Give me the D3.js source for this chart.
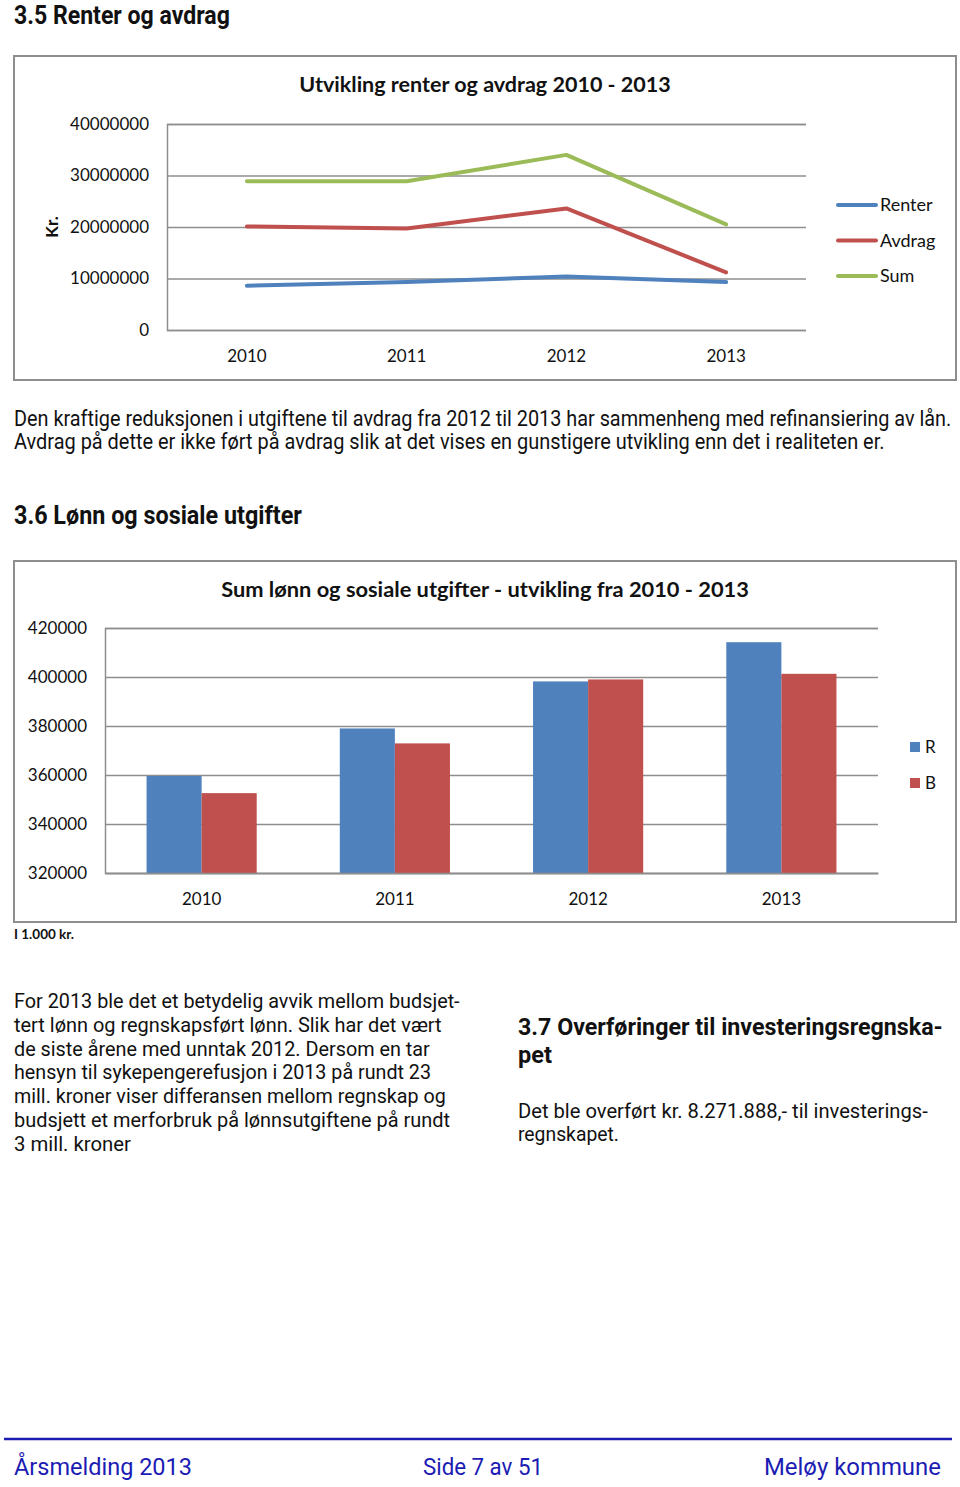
<!DOCTYPE html>
<html><head><meta charset="utf-8">
<script src="https://cdn.jsdelivr.net/npm/d3@7"></script>
<style>
html,body{margin:0;padding:0;background:#fff;}
svg{display:block;}
</style></head>
<body>
<svg id="page" width="960" height="1487"></svg>
<script>
// ---------- DATA ----------
const years1 = ["2010", "2011", "2012", "2013"];
const seriesNames1 = ["Renter", "Avdrag", "Sum"];
const renter = [8600000, 9300000, 10400000, 9300000];
const avdrag = [20100000, 19700000, 23600000, 11200000];
const sumVals = [28900000, 28900000, 34000000, 20500000];
const yTicks1 = [0, 10000000, 20000000, 30000000, 40000000];

const years2 = ["2010", "2011", "2012", "2013"];
const seriesNames2 = ["R", "B"];
const valuesR = [359600, 379000, 398200, 414200];
const valuesB = [352600, 372900, 399000, 401300];
const yTicks2 = [320000, 340000, 360000, 380000, 400000, 420000];

// ---------- STYLE ----------
const C_BLUE = "#4F81BD", C_RED = "#C0504D", C_GREEN = "#9BBB59";
const GRID = "#8e8e8e";
const chartFont = "Lato, 'Open Sans', sans-serif";
const bodyFont = "'Liberation Sans Narrow', Roboto, sans-serif";
const footBlue = "#1c1cb4";

const svg = d3.select("#page");

// Text squeezed horizontally to a target width via a scale transform
function fitText(sel, x, y, str, len, size, weight, fill, family, anchor) {
  const g = sel.append("g");
  const t = g.append("text")
    .attr("x", 0).attr("y", 0)
    .attr("font-family", family || bodyFont)
    .attr("font-size", size)
    .attr("font-weight", weight || "normal")
    .attr("fill", fill || "#111")
    .attr("text-anchor", anchor || "start")
    .text(str);
  let sx = 1;
  if (len) {
    const nat = t.node().getComputedTextLength();
    if (nat > 0) sx = len / nat;
  }
  g.attr("transform", `translate(${x},${y}) scale(${sx},1)`);
  return t;
}

// ---------- PAGE TEXT ----------
fitText(svg, 14, 24, "3.5 Renter og avdrag", 216, 25, "bold");
fitText(svg, 14, 426, "Den kraftige reduksjonen i utgiftene til avdrag fra 2012 til 2013 har sammenheng med refinansiering av lån.", 938, 22);
fitText(svg, 14, 449, "Avdrag på dette er ikke ført på avdrag slik at det vises en gunstigere utvikling enn det i realiteten er.", 871, 22);
fitText(svg, 14, 524, "3.6 Lønn og sosiale utgifter", 288, 26, "bold");
fitText(svg, 14, 939, "I 1.000 kr.", 60, 13, "bold", "#111", chartFont);

const leftPara = [
  ["For 2013 ble det et betydelig avvik mellom budsjet-", 446],
  ["tert lønn og regnskapsført lønn. Slik har det vært", 428],
  ["de siste årene med unntak 2012. Dersom en tar", 416],
  ["hensyn til sykepengerefusjon i 2013 på rundt 23", 417],
  ["mill. kroner viser differansen mellom regnskap og", 432],
  ["budsjett et merforbruk på lønnsutgiftene på rundt", 436],
  ["3 mill. kroner", 117]
];
leftPara.forEach((l, i) => fitText(svg, 14, 1008 + i * 23.8, l[0], l[1], 21));

fitText(svg, 518, 1035, "3.7 Overføringer til investeringsregnska-", 425, 24, "bold");
fitText(svg, 518, 1063, "pet", 34, 24, "bold");
fitText(svg, 518, 1118, "Det ble overført kr. 8.271.888,- til investerings-", 410, 21);
fitText(svg, 518, 1141, "regnskapet.", 101, 21);

// footer
svg.append("line").attr("x1", 4).attr("x2", 952).attr("y1", 1439).attr("y2", 1439)
  .attr("stroke", footBlue).attr("stroke-width", 2.5);
fitText(svg, 14, 1475, "Årsmelding 2013", 178, 23, "normal", footBlue);
fitText(svg, 423, 1475, "Side 7 av 51", 120, 23, "normal", footBlue);
fitText(svg, 764, 1475, "Meløy kommune", 177, 23, "normal", footBlue);

// ---------- CHART 1 ----------
{
  const g = svg.append("g");
  g.append("rect").attr("x", 14).attr("y", 56).attr("width", 942).attr("height", 324)
    .attr("fill", "#fff").attr("stroke", GRID).attr("stroke-width", 2);
  const L = 167, R = 806, T = 124, B = 330;
  const x = d3.scaleBand().domain(years1).range([L, R]);
  const y = d3.scaleLinear().domain([0, 40000000]).range([B, T]);

  const ya = g.append("g").attr("transform", `translate(${L},0)`)
    .call(d3.axisLeft(y).tickValues(yTicks1).tickSize(-(R - L)).tickPadding(18).tickFormat(d3.format("d")));
  ya.select(".domain").attr("stroke", GRID).attr("stroke-width", 1.5);
  ya.selectAll(".tick line").attr("stroke", GRID).attr("stroke-width", 1.5);
  ya.selectAll(".tick text").attr("font-family", chartFont).attr("font-size", 17).attr("fill", "#111");

  const xa = g.append("g").attr("transform", `translate(0,${B})`)
    .call(d3.axisBottom(x).tickSize(0).tickPadding(20));
  xa.select(".domain").remove();
  xa.selectAll(".tick text").attr("font-family", chartFont).attr("font-size", 17).attr("fill", "#111");

  const series = [
    { name: seriesNames1[0], vals: renter, color: C_BLUE },
    { name: seriesNames1[1], vals: avdrag, color: C_RED },
    { name: seriesNames1[2], vals: sumVals, color: C_GREEN }
  ];
  const line = d3.line().x((d, i) => x(years1[i]) + x.bandwidth() / 2).y(d => y(d));
  series.forEach(s => {
    g.append("path").datum(s.vals).attr("d", line).attr("fill", "none")
      .attr("stroke", s.color).attr("stroke-width", 4).attr("stroke-linecap", "round").attr("stroke-linejoin", "round");
  });

  fitText(g, 485, 92, "Utvikling renter og avdrag 2010 - 2013", 372, 20, "bold", "#111", chartFont, "middle");

  g.append("text").attr("transform", "translate(58,227) rotate(-90)").attr("text-anchor", "middle")
    .attr("font-family", chartFont).attr("font-weight", "bold").attr("font-size", 17).attr("fill", "#111")
    .text("Kr.");

  const lg = g.append("g");
  series.forEach((s, i) => {
    const yy = 205 + i * 35.5;
    lg.append("line").attr("x1", 838).attr("x2", 876).attr("y1", yy).attr("y2", yy)
      .attr("stroke", s.color).attr("stroke-width", 4).attr("stroke-linecap", "round");
    lg.append("text").attr("x", 880).attr("y", yy + 6).attr("font-family", chartFont)
      .attr("font-size", 18).attr("fill", "#111").text(s.name);
  });
}

// ---------- CHART 2 ----------
{
  const g = svg.append("g");
  g.append("rect").attr("x", 14).attr("y", 561).attr("width", 942).attr("height", 361)
    .attr("fill", "#fff").attr("stroke", GRID).attr("stroke-width", 2);
  const L = 105, R = 878, T = 628, B = 873;
  const x0 = d3.scaleBand().domain(years2).range([L, R]);
  const bw = x0.bandwidth();
  const x1 = d3.scaleBand().domain(seriesNames2).range([bw * 0.215, bw * 0.785]);
  const y = d3.scaleLinear().domain([320000, 420000]).range([B, T]);

  const ya = g.append("g").attr("transform", `translate(${L},0)`)
    .call(d3.axisLeft(y).tickValues(yTicks2).tickSize(-(R - L)).tickPadding(18).tickFormat(d3.format("d")));
  ya.select(".domain").attr("stroke", GRID).attr("stroke-width", 1.5);
  ya.selectAll(".tick line").attr("stroke", GRID).attr("stroke-width", 1.5);
  ya.selectAll(".tick text").attr("font-family", chartFont).attr("font-size", 17).attr("fill", "#111");

  const data = years2.map((yr, i) => ({ yr, vals: [
    { k: seriesNames2[0], v: valuesR[i], c: C_BLUE },
    { k: seriesNames2[1], v: valuesB[i], c: C_RED }
  ]}));
  g.selectAll("g.grp").data(data).join("g").attr("class", "grp")
    .attr("transform", d => `translate(${x0(d.yr)},0)`)
    .selectAll("rect").data(d => d.vals).join("rect")
    .attr("x", d => x1(d.k)).attr("width", x1.bandwidth())
    .attr("y", d => y(d.v)).attr("height", d => B - y(d.v))
    .attr("fill", d => d.c);

  const xa = g.append("g").attr("transform", `translate(0,${B})`)
    .call(d3.axisBottom(x0).tickSize(0).tickPadding(20));
  xa.select(".domain").attr("stroke", GRID).attr("stroke-width", 1.5);
  xa.selectAll(".tick text").attr("font-family", chartFont).attr("font-size", 17).attr("fill", "#111");

  fitText(g, 485, 597, "Sum lønn og sosiale utgifter - utvikling fra 2010 - 2013", 528, 20, "bold", "#111", chartFont, "middle");

  const colors2 = [C_BLUE, C_RED];
  seriesNames2.forEach((n, i) => {
    const yy = 747 + i * 36;
    g.append("rect").attr("x", 910).attr("y", yy - 5).attr("width", 10).attr("height", 10).attr("fill", colors2[i]);
    g.append("text").attr("x", 925).attr("y", yy + 6).attr("font-family", chartFont)
      .attr("font-size", 17).attr("fill", "#111").text(n);
  });
}
</script>
</body></html>
